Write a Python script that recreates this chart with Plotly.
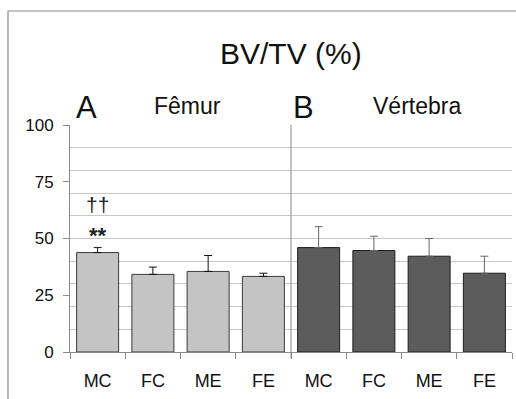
import plotly.graph_objects as go

# Bone volume fraction by group
groups = ["MC", "FC", "ME", "FE"]
femur_mean = [43.8, 34.2, 35.5, 33.3]
femur_err = [2.2, 3.2, 7.0, 1.4]
vert_mean = [46.0, 44.7, 42.2, 34.7]
vert_err = [9.2, 6.3, 7.8, 7.5]

y_ticks = [0, 25, 50, 75, 100]

FONT = "Arial, Liberation Sans, sans-serif"
W, H = 516, 399
ML, MR, MT, MB = 70, 4, 125, 47

n = len(groups)
x_femur = list(range(n))
x_vert = list(range(n, 2 * n))

fig = go.Figure()
fig.add_bar(
    x=x_femur, y=femur_mean,
    marker=dict(color="#c4c4c4", line=dict(color="#3a3a3a", width=1)),
    error_y=dict(type="data", array=femur_err, arrayminus=[0] * n,
                 color="#111111", thickness=1, width=4),
    width=0.76,
)
fig.add_bar(
    x=x_vert, y=vert_mean,
    marker=dict(color="#5c5c5c", line=dict(color="#1e1e1e", width=1)),
    error_y=dict(type="data", array=vert_err, arrayminus=[0] * n,
                 color="#666666", thickness=1, width=4),
    width=0.76,
)

pw = W - ML - MR
ph = H - MT - MB

def px_x(p):
    return (p - ML) / pw

def px_y(p):
    return (H - MB - p) / ph

shapes = [
    # outer frame
    dict(type="rect", xref="paper", yref="paper",
         x0=px_x(8), x1=px_x(530), y0=px_y(420), y1=px_y(11),
         line=dict(color="#8a8a8a", width=1.2), layer="below"),
    # separator between panels
    dict(type="line", xref="x", yref="paper",
         x0=n - 0.5, x1=n - 0.5, y0=-0.027, y1=1,
         line=dict(color="#8a8a8a", width=1)),
]

def label(text, x, y, size, **kw):
    return dict(text=text, x=px_x(x), y=px_y(y), xref="paper", yref="paper",
                xanchor="center", yanchor="middle", showarrow=False,
                font=dict(size=size, color="#111111", family=FONT), **kw)

annotations = [
    label("BV/TV (%)", 291, 53, 30),
    label("A", 86, 107, 31),
    label("Fêmur", 187, 106, 23),
    label("B", 303, 107, 31),
    label("Vértebra", 417, 106, 23),
    dict(text="<b>**</b>", x=0, y=femur_mean[0] + femur_err[0] + 5.5,
         xref="x", yref="y", xanchor="center", yanchor="middle", showarrow=False,
         font=dict(size=22, color="#222222", family=FONT)),
    dict(text="††", x=0, y=femur_mean[0] + femur_err[0] + 19,
         xref="x", yref="y", xanchor="center", yanchor="middle", showarrow=False,
         font=dict(size=21, color="#222222", family=FONT)),
]

fig.update_layout(
    width=W, height=H,
    margin=dict(l=ML, r=MR, t=MT, b=MB),
    paper_bgcolor="white", plot_bgcolor="white",
    showlegend=False,
    barmode="overlay",
    shapes=shapes,
    annotations=annotations,
    font=dict(family=FONT, color="#111111"),
)

fig.update_xaxes(
    range=[-0.5, 2 * n - 0.5],
    tickvals=x_femur + x_vert,
    ticktext=groups + groups,
    ticks="", showgrid=False,
    showline=True, linecolor="#8a8a8a", linewidth=1,
    tickfont=dict(size=18, family=FONT, color="#111111"),
    ticklabelstandoff=12,
    minor=dict(tickvals=[i - 0.5 for i in range(2 * n + 1)],
               ticks="outside", ticklen=6, tickcolor="#8a8a8a", showgrid=False),
    zeroline=False,
)

fig.update_yaxes(
    range=[0, 100],
    tickvals=y_ticks,
    ticks="outside", ticklen=6, tickcolor="#8a8a8a",
    showgrid=False,
    showline=True, linecolor="#8a8a8a", linewidth=1,
    tickfont=dict(size=17, family=FONT, color="#111111"),
    ticklabelstandoff=6,
    minor=dict(dtick=10, showgrid=True, gridcolor="#c8c8c8", gridwidth=1, ticks=""),
    zeroline=False,
)

fig.write_html("out.html")
